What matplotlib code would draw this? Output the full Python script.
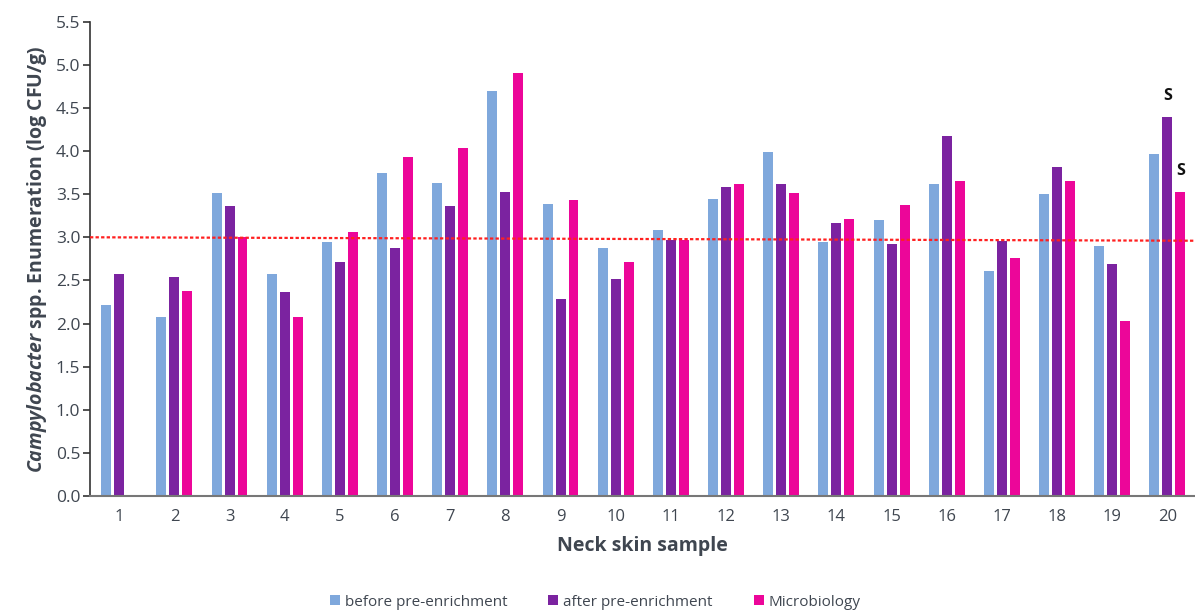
import numpy as np
import matplotlib
matplotlib.use('Agg')
import matplotlib.pyplot as plt

# Datos
samples = [str(i) for i in range(1, 21)]
before = [2.22, 2.08, 3.51, 2.57, 2.94, 3.74, 3.63, 4.70, 3.39, 2.87,
          3.09, 3.44, 3.99, 2.94, 3.20, 3.62, 2.61, 3.50, 2.90, 3.96]
after = [2.57, 2.54, 3.36, 2.36, 2.71, 2.87, 3.36, 3.53, 2.28, 2.52,
         2.97, 3.58, 3.62, 3.16, 2.92, 4.17, 2.96, 3.81, 2.69, 4.40]
micro = [0.0, 2.38, 3.00, 2.07, 3.06, 3.93, 4.03, 4.91, 3.43, 2.71,
         2.97, 3.62, 3.51, 3.21, 3.37, 3.65, 2.76, 3.65, 2.03, 3.53]
threshold = 3.0

plt.rcParams['font.family'] = ['Open Sans', 'DejaVu Sans']
plt.rcParams['mathtext.fontset'] = 'custom'
plt.rcParams['mathtext.bfit'] = 'Open Sans:bold:italic'
plt.rcParams['mathtext.bf'] = 'Open Sans:bold'
plt.rcParams['mathtext.rm'] = 'Open Sans'

txt = '#3F4650'
c_before = '#7FA8DC'
c_after = '#7B23A0'
c_micro = '#EC0699'

fig = plt.figure(figsize=(11.95, 6.16), dpi=100)
ax = fig.add_axes([0.0753, 0.1948, 1 - 0.0753, 0.9648 - 0.1948])

x = np.arange(len(samples))
w = 0.18
off = 0.235
ax.bar(x - off, before, w, color=c_before, label='before pre-enrichment')
ax.bar(x, after, w, color=c_after, label='after pre-enrichment')
ax.bar(x + off, micro, w, color=c_micro, label='Microbiology')

ax.plot([-0.53, 19.5], [threshold, threshold - 0.04], color='#FF2020',
        linestyle=(0, (1.5, 1)), linewidth=1.6, zorder=3)

# marcas "S" en la muestra 20
ax.text(x[19], after[19] + 0.15, 'S', ha='center', va='bottom',
        fontsize=11.5, fontweight='bold', color='#111111')
ax.text(x[19] + off, micro[19] + 0.15, 'S', ha='center', va='bottom',
        fontsize=11.5, fontweight='bold', color='#111111')

ax.set_xlim(-0.53, 19.5)
ax.set_ylim(0, 5.5)
ax.set_yticks(np.arange(0, 5.51, 0.5))
ax.set_yticklabels([f'{v:.1f}' for v in np.arange(0, 5.51, 0.5)])
ax.set_xticks(x)
ax.set_xticklabels(samples)

for s in ['top', 'right']:
    ax.spines[s].set_visible(False)
ax.spines['left'].set_color('#333333')
ax.spines['left'].set_linewidth(1.2)
ax.spines['bottom'].set_color('#777777')
ax.spines['bottom'].set_linewidth(1.5)

ax.tick_params(axis='y', colors='#333333', labelcolor=txt, labelsize=12.5,
               length=5, width=1.2, direction='out', pad=2)
ax.tick_params(axis='x', length=0, labelcolor=txt, labelsize=12, pad=9)

ax.set_ylabel(r'$\mathbfit{Campylobacter}$ spp. Enumeration (log CFU/g)',
              fontsize=14, fontweight='bold', color=txt, labelpad=5)
ax.set_xlabel('Neck skin sample', fontsize=14, fontweight='bold',
              color=txt, labelpad=8)

fig.legend(loc='lower center', bbox_to_anchor=(0.498, -0.012), ncol=3,
           frameon=False, fontsize=11, handlelength=0.65, handleheight=0.65,
           handletextpad=0.3, columnspacing=2.7, labelcolor=txt)

fig.savefig('out.png', dpi=100)
